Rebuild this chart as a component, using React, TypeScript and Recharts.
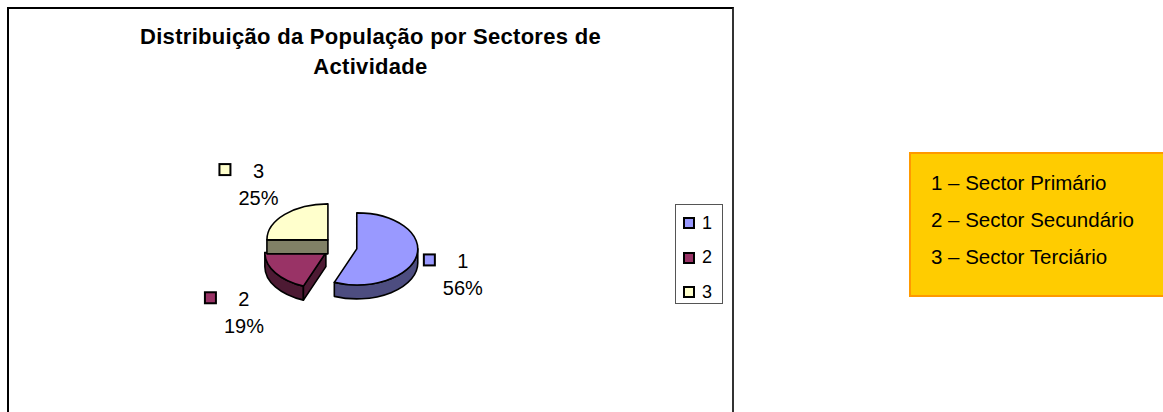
import React from 'react';
import { PieChart, Pie, Cell, Legend } from 'recharts';

const categories = ['1', '2', '3'];
const values = [56, 19, 25];
const topColors = ['#9999FF', '#993366', '#FFFFCC'];
const sideColors = ['#4D4D80', '#4D1A33', '#808066'];
const sectorNames = ['1 – Sector Primário', '2 – Sector Secundário', '3 – Sector Terciário'];
const titleLines = ['Distribuição da População por Sectores de', 'Actividade'];

const data = categories.map((c, i) => ({ name: c, value: values[i] }));

const FONT = '"Liberation Sans", Arial, Helvetica, sans-serif';
const RAD = Math.PI / 180;
const TILT = 0.59;
const DEPTH = 14;
const EXPLODE = 0.28;

function Slice3D(props: any) {
  const { cx, cy, outerRadius: R, startAngle, endAngle, midAngle, index, percent } = props;
  const hi = Math.max(startAngle, endAngle);
  const lo = Math.min(startAngle, endAngle);
  const e = EXPLODE * R;
  const ry = TILT * R;
  const ox = cx + e * Math.cos(midAngle * RAD);
  const oy = cy - TILT * e * Math.sin(midAngle * RAD);
  const P = (a: number, dy = 0) => [ox + R * Math.cos(a * RAD), oy - ry * Math.sin(a * RAD) + dy];
  const f = (p: number[]) => `${p[0].toFixed(2)} ${p[1].toFixed(2)}`;
  const top = topColors[index];
  const side = sideColors[index];
  const large = hi - lo > 180 ? 1 : 0;

  const parts: React.ReactNode[] = [];
  for (let k = -1; k <= 1; k++) {
    const a1 = Math.min(hi, k * 360);
    const a2 = Math.max(lo, k * 360 - 180);
    if (a1 - a2 > 0.01) {
      const lg = a1 - a2 > 180 ? 1 : 0;
      const d = `M ${f(P(a1))} A ${R} ${ry} 0 ${lg} 1 ${f(P(a2))} L ${f(P(a2, DEPTH))} A ${R} ${ry} 0 ${lg} 0 ${f(P(a1, DEPTH))} Z`;
      parts.push(<path key={`w${k}`} d={d} fill={side} stroke="#000" strokeWidth={1.6} strokeLinejoin="round" />);
    }
  }
  const face = (a: number, key: string) => {
    const d = `M ${ox} ${oy} L ${f(P(a))} L ${f(P(a, DEPTH))} L ${ox} ${oy + DEPTH} Z`;
    parts.push(<path key={key} d={d} fill={side} stroke="#000" strokeWidth={1.6} strokeLinejoin="round" />);
  };
  if (Math.cos(hi * RAD) < -0.01) face(hi, 'fh');
  if (Math.cos(lo * RAD) > 0.01) face(lo, 'fl');
  const dTop = `M ${ox} ${oy} L ${f(P(hi))} A ${R} ${ry} 0 ${large} 1 ${f(P(lo))} Z`;
  parts.push(<path key="top" d={dTop} fill={top} stroke="#000" strokeWidth={1.6} strokeLinejoin="round" />);

  const lx = cx + 121 * Math.cos(midAngle * RAD) + 4;
  const ly = cy - 101 * Math.sin(midAngle * RAD) + 9;
  parts.push(
    <g key="label">
      <rect x={lx - 39} y={ly - 13.5 - 7} width={11} height={11} fill={top} stroke="#000" strokeWidth={2} />
      <text x={lx} y={ly - 13.5} textAnchor="middle" dominantBaseline="central" fontFamily={FONT} fontSize={20} fill="#000">
        {categories[index]}
      </text>
      <text x={lx} y={ly + 13.5} textAnchor="middle" dominantBaseline="central" fontFamily={FONT} fontSize={20} fill="#000">
        {`${Math.round(percent * 100)}%`}
      </text>
    </g>
  );
  return <g>{parts}</g>;
}

function LegendContent(props: any) {
  const payload = props.payload || [];
  return (
    <div
      style={{
        width: 46,
        height: 98,
        border: '1px solid #555',
        background: '#fff',
        boxSizing: 'content-box',
        position: 'relative',
        fontFamily: FONT,
      }}
    >
      {payload.map((p: any, i: number) => (
        <div key={i} style={{ position: 'absolute', left: 7, top: 18 + i * 34.5 - 12, height: 24, display: 'flex', alignItems: 'center' }}>
          <div style={{ width: 8, height: 8, background: topColors[i], border: '2px solid #000' }} />
          <span style={{ marginLeft: 7, fontSize: 18, color: '#000' }}>{p.value}</span>
        </div>
      ))}
    </div>
  );
}

export default function App() {
  return (
    <div style={{ position: 'absolute', left: 0, top: 0, width: 1163, height: 412, overflow: 'hidden', background: '#fff' }}>
      <div
        style={{
          position: 'absolute',
          left: 7,
          top: 7,
          width: 723,
          height: 430,
          borderTop: '2px solid #000',
          borderLeft: '2px solid #000',
          borderRight: '2px solid #333',
        }}
      />
      <div
        style={{
          position: 'absolute',
          left: 7,
          top: 22,
          width: 727,
          textAlign: 'center',
          fontFamily: FONT,
          fontWeight: 'bold',
          fontSize: 22,
          letterSpacing: 0.3,
          lineHeight: '30px',
          color: '#000',
        }}
      >
        {titleLines.map((t, i) => (
          <div key={i}>{t}</div>
        ))}
      </div>
      <div style={{ position: 'absolute', left: 0, top: 0 }}>
        <PieChart width={1163} height={412} margin={{ top: 0, right: 0, bottom: 0, left: 0 }}>
          <Pie
            data={data}
            dataKey="value"
            nameKey="name"
            cx={340}
            cy={247}
            outerRadius={61}
            startAngle={90}
            endAngle={-270}
            isAnimationActive={false}
            label={Slice3D}
            labelLine={false}
            stroke="none"
          >
            {data.map((d, i) => (
              <Cell key={i} fill="transparent" stroke="none" />
            ))}
          </Pie>
          <Legend
            content={<LegendContent />}
            wrapperStyle={{ position: 'absolute', left: 675, top: 204, width: 48, height: 100, bottom: 'auto', right: 'auto' }}
          />
        </PieChart>
      </div>
      <div
        style={{
          position: 'absolute',
          left: 909,
          top: 152,
          width: 260,
          height: 141,
          background: '#FFCC00',
          border: '2px solid #FF9900',
          fontFamily: FONT,
          fontSize: 20.5,
          color: '#000',
        }}
      >
        {sectorNames.map((s, i) => (
          <div key={i} style={{ position: 'absolute', left: 20, top: 29 + i * 37 - 13, lineHeight: '26px', whiteSpace: 'nowrap' }}>
            {s}
          </div>
        ))}
      </div>
    </div>
  );
}
